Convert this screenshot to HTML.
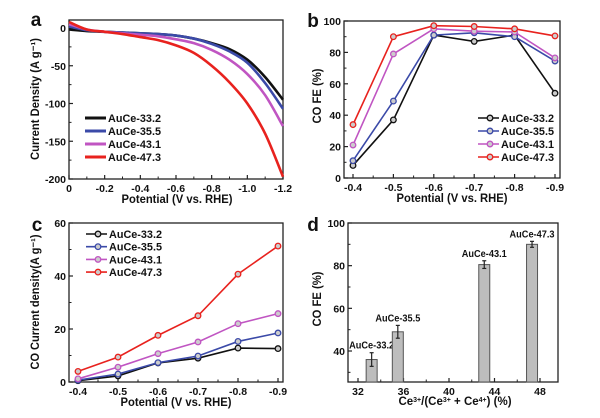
<!DOCTYPE html>
<html><head><meta charset="utf-8"><style>
html,body{margin:0;padding:0;background:#fff;width:600px;height:418px;overflow:hidden}
svg text{font-family:"Liberation Sans",sans-serif;font-weight:bold;fill:#111}
</style></head><body>
<svg id="s" width="600" height="418" xmlns="http://www.w3.org/2000/svg"></svg>
<script>
const names = ["AuCe-33.2","AuCe-35.5","AuCe-43.1","AuCe-47.3"];
const colors = ["#111111","#3b4aa8","#c055c2","#e8221e"];
// Panel a: LSV curves
const aX = [0,-0.1,-0.2,-0.3,-0.4,-0.5,-0.6,-0.7,-0.8,-0.9,-1.0,-1.1,-1.2];
const aBlack = [-2,-4,-5,-6,-7,-8,-10,-14,-20,-28,-42,-65,-95];
const aBlue = [2,-3,-5,-6,-7,-8,-10,-14,-21,-31,-46,-73,-107];
const aMag = [5,-2,-5,-7,-9,-11,-15,-20,-29,-42,-61,-89,-130];
const aRed = [8,-2,-5,-8,-12,-16,-23,-33,-50,-72,-100,-140,-197];
const aTicksX = [0,-0.2,-0.4,-0.6,-0.8,-1.0,-1.2];
const aTicksY = [0,-50,-100,-150,-200];
// Panel b: CO FE
const bX = [-0.4,-0.5,-0.6,-0.7,-0.8,-0.9];
const bBlack = [8,37,91,87,91,54];
const bBlue = [11,49,91,92.5,90,74.5];
const bMag = [21,79,95,93.5,93,76.5];
const bRed = [34,90,97,96.5,95,90.5];
const bTicksY = [0,20,40,60,80,100];
// Panel c: CO current density
const cBlack = [0.5,2.3,7.2,9,12.8,12.6];
const cBlue = [0.7,3,7.3,9.8,15.3,18.5];
const cMag = [1.2,5.6,10.7,15.1,22,25.8];
const cRed = [4,9.4,17.6,25,40.7,51.3];
const cTicksY = [0,20,40,60];
// Panel d: bars
const dX = [33.2,35.5,43.1,47.3];
const dY = [36,49,80.5,90];
const dErr = [3.2,3,1.8,1.4];
const dLabels = ["AuCe-33.2","AuCe-35.5","AuCe-43.1","AuCe-47.3"];
const dTicksX = [32,36,40,44,48];
const dTicksY = [40,60,80,100];

const S = document.getElementById('s');
const NS = "http://www.w3.org/2000/svg";
function el(tag, attrs, parent){const e=document.createElementNS(NS,tag);for(const k in attrs)e.setAttribute(k,attrs[k]);(parent||S).appendChild(e);return e;}
function txt(x,y,s,size,anchor,parent,len){const t=el('text',{x:x,y:y,'font-size':size,'text-anchor':anchor||'middle'},parent);t.textContent=s;
  if(len){t.setAttribute('textLength',len);t.setAttribute('lengthAdjust','spacingAndGlyphs');}return t;}
function lin(d0,d1,r0,r1){return v=>r0+(v-d0)/(d1-d0)*(r1-r0);}

function frame(g,x0,y0,x1,y1){el('rect',{x:x0,y:y0,width:x1-x0,height:y1-y0,fill:'none',stroke:'#222','stroke-width':1.3},g);}
function xticks(g,sx,ticks,yb,fmt,minor){
  ticks.forEach(v=>{const x=sx(v);el('line',{x1:x,y1:yb,x2:x,y2:yb-4,stroke:'#222','stroke-width':1.2},g);
    const t=txt(x,yb+13,fmt(v),10.5,'middle',g);});
  (minor||[]).forEach(v=>{const x=sx(v);el('line',{x1:x,y1:yb,x2:x,y2:yb-2.5,stroke:'#222','stroke-width':1},g);});
}
function yticks(g,sy,ticks,xl,fmt,minor){
  ticks.forEach(v=>{const y=sy(v);el('line',{x1:xl,y1:y,x2:xl+4,y2:y,stroke:'#222','stroke-width':1.2},g);
    const t=txt(xl-3,y+4,fmt(v),10.5,'end',g);});
  (minor||[]).forEach(v=>{const y=sy(v);el('line',{x1:xl,y1:y,x2:xl+2.5,y2:y,stroke:'#222','stroke-width':1},g);});
}
function title(g,x,y,s,rot,len){const t=txt(x,y,s,11.5,'middle',g,len);if(rot)t.setAttribute('transform','rotate(-90 '+x+' '+y+')');return t;}
function smooth(pts){let d='M'+pts[0][0]+','+pts[0][1];for(let i=0;i<pts.length-1;i++){const p0=pts[i-1]||pts[i],p1=pts[i],p2=pts[i+1],p3=pts[i+2]||p2;
  d+=' C'+(p1[0]+(p2[0]-p0[0])/6)+','+(p1[1]+(p2[1]-p0[1])/6)+' '+(p2[0]-(p3[0]-p1[0])/6)+','+(p2[1]-(p3[1]-p1[1])/6)+' '+p2[0]+','+p2[1];}return d;}
function legend(g,x,y0,dy,marker){
  names.forEach((n,i)=>{const y=y0+i*dy;const lg=el('g',{},g);
    
    el('line',{x1:x,y1:y,x2:x+21,y2:y,stroke:colors[i],'stroke-width':marker?1.6:3},lg);
    if(marker)el('circle',{cx:x+12,cy:y,r:2.8,fill:'#ccc',stroke:colors[i],'stroke-width':1.3},lg);
    txt(x+23,y+4,n,11,'start',lg,53);});
}
const f1=v=>v.toFixed(1), f0=v=>String(v);

// ---------- Panel a ----------
(function(){
  const g=el('g',{});
  const sx=lin(0,-1.2,69,283), sy=lin(0,-200,28,179);
  frame(g,69,20,283,179);
  xticks(g,sx,aTicksX,179,v=>v===0?'0':v.toFixed(1),[-0.1,-0.3,-0.5,-0.7,-0.9,-1.1]);
  yticks(g,sy,aTicksY,69,f0,[-25,-75,-125,-175]);
  [aBlack,aBlue,aMag,aRed].forEach((ys,i)=>{
    const p=el('path',{d:smooth(aX.map((x,j)=>[sx(x),sy(ys[j])])),fill:'none',stroke:colors[i],'stroke-width':2.6},g);
    });
  legend(g,85,118,13,false);
  const t1=title(g,177,203,'Potential (V vs. RHE)',false,111);
  const t2=title(g,39,99,'Current Density (A g\u207B\u00B9)',true,122);
  const l=txt(36,26,'a',19,'middle',g);
})();

// ---------- Panel b & c ----------
function markerChart(name,label,box,sy,ticksY,series,minorY,ytitle,ytx,yty,ylen,legY){
  const g=el('g',{});
  const sx=lin(-0.4,-0.9,box.x0+9,box.x1-5);
  frame(g,box.x0,box.y0,box.x1,box.y1);
  xticks(g,sx,bX,box.y1,f1,[-0.45,-0.55,-0.65,-0.75,-0.85]);
  yticks(g,sy,ticksY,box.x0,f0,minorY);
  series.forEach((ys,i)=>{
    const pts=bX.map((x,j)=>sx(x)+','+sy(ys[j])).join(' ');
    const p=el('polyline',{points:pts,fill:'none',stroke:colors[i],'stroke-width':1.6},g);
    
    bX.forEach((x,j)=>{const c=el('circle',{cx:sx(x),cy:sy(ys[j]),r:2.8,fill:'#ccc',stroke:colors[i],'stroke-width':1.3},g);
      });
  });
  legend(g,legY.x,legY.y,legY.dy,true);
  const t1=title(g,(box.x0+box.x1)/2,box.y1+24,'Potential (V vs. RHE)',false,111);
  const t2=title(g,ytx,yty,ytitle,true,ylen);
  const l=txt(label.x,label.y,label.t,19,'middle',g);
}
markerChart('panel-b-co-fe-chart',{x:313,y:27,t:'b'},{x0:344,y0:21,x1:560,y1:178},lin(0,100,178,21),bTicksY,[bBlack,bBlue,bMag,bRed],[10,30,50,70,90],'CO FE (%)',321,96,55,{x:478,y:118,dy:13});
markerChart('panel-c-co-current-chart',{x:37,y:231,t:'c'},{x0:69,y0:223,x1:283,y1:382},lin(0,60,382,223),cTicksY,[cBlack,cBlue,cMag,cRed],[10,30,50],'CO Current density(A g\u207B\u00B9)',39,302,135,{x:86,y:234,dy:12.7});

// ---------- Panel d ----------
(function(){
  const g=el('g',{});
  const sx=lin(32,48,358,540), sy=lin(40,100,351,223);
  const yb=382, x0=348, x1=558;
  frame(g,x0,223,x1,yb);
  xticks(g,sx,dTicksX,yb,f0,[34,38,42,46]);
  yticks(g,sy,dTicksY,x0,f0,[30,50,70,90]);
  dX.forEach((x,i)=>{
    const cx=sx(x), w=11, top=sy(dY[i]);
    const b=el('rect',{x:cx-w/2,y:top,width:w,height:yb-top,fill:'#bdbdbd',stroke:'#555','stroke-width':1},g);
    
    const e1=sy(dY[i]+dErr[i]), e2=sy(dY[i]-dErr[i]);
    el('line',{x1:cx,y1:e1,x2:cx,y2:e2,stroke:'#222','stroke-width':1.2},g);
    el('line',{x1:cx-2,y1:e1,x2:cx+2,y2:e1,stroke:'#222','stroke-width':1.2},g);
    el('line',{x1:cx-2,y1:e2,x2:cx+2,y2:e2,stroke:'#222','stroke-width':1.2},g);
    const t=txt(cx,e1-4,dLabels[i],10,'middle',g,45);
  });
  const t1=txt(455,405,'',11.5,'middle',g);
  t1.innerHTML='Ce<tspan baseline-shift="super" font-size="7">3+</tspan>/(Ce<tspan baseline-shift="super" font-size="7">3+</tspan> + Ce<tspan baseline-shift="super" font-size="7">4+</tspan>) (%)';
  
  const t2=title(g,321,299,'CO FE (%)',true,55);
  const l=txt(313,231,'d',19,'middle',g);
})();
</script>
</body></html>
